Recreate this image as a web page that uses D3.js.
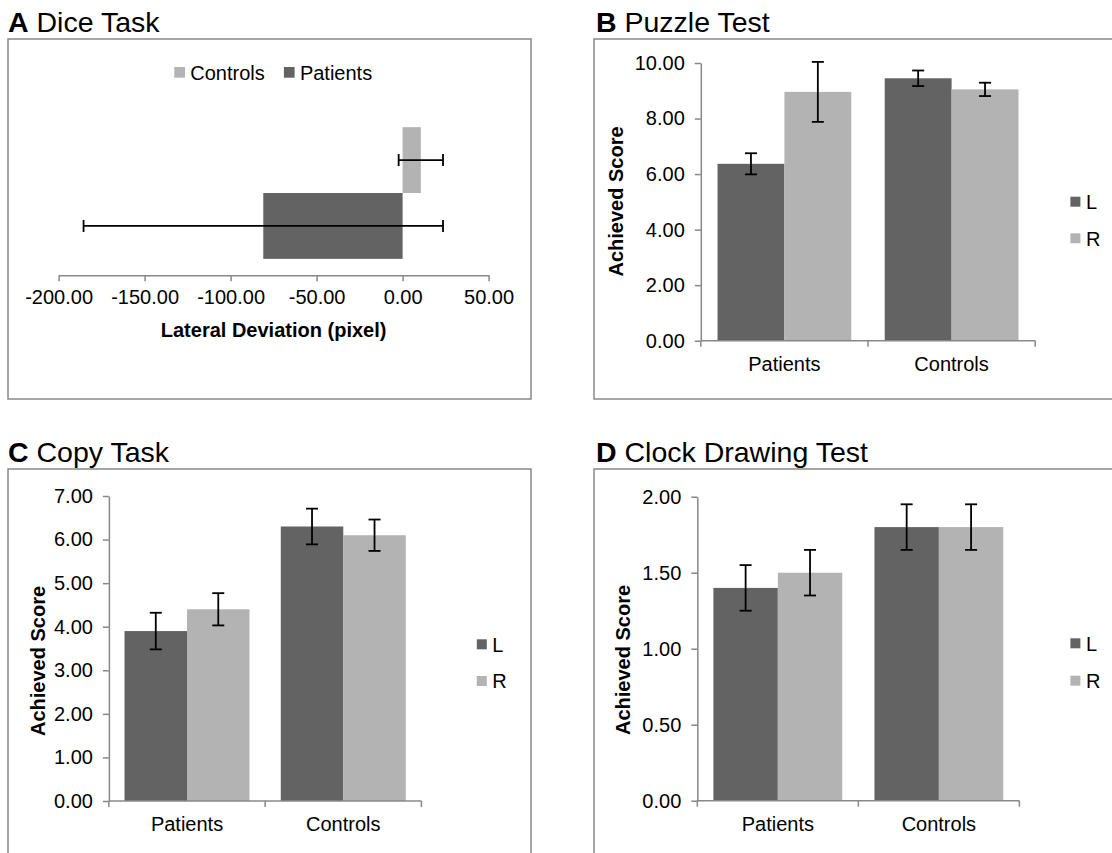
<!DOCTYPE html>
<html>
<head>
<meta charset="utf-8">
<script src="https://cdn.jsdelivr.net/npm/d3@7"></script>
<style>
  html, body { margin: 0; padding: 0; background: #fff; }
  svg { display: block; }
  text { font-family: "Liberation Sans", Arial, Helvetica, sans-serif; fill: #000; }
</style>
</head>
<body>
<svg id="chart" width="1112" height="853"></svg>
<script>
// ---------------- DATA ----------------
// Panel A: Dice Task (horizontal bars)
const diceCategories = ["Controls", "Patients"];
const diceValues = [10.6, -81];
const diceErrors = [12.9, 104.5];
const diceTicks = [-200, -150, -100, -50, 0, 50];

// Bar panels share groups and series
const groupCategories = ["Patients", "Controls"];
const sideSeries = ["L", "R"];

// Panel B: Puzzle Test
const puzzleL = [6.37, 9.45];
const puzzleR = [8.96, 9.05];
const puzzleErrL = [0.38, 0.28];
const puzzleErrR = [1.08, 0.24];
const puzzleTicks = [0, 2, 4, 6, 8, 10];

// Panel C: Copy Task
const copyL = [3.9, 6.3];
const copyR = [4.4, 6.1];
const copyErrL = [0.42, 0.41];
const copyErrR = [0.37, 0.36];
const copyTicks = [0, 1, 2, 3, 4, 5, 6, 7];

// Panel D: Clock Drawing Test
const clockL = [1.4, 1.8];
const clockR = [1.5, 1.8];
const clockErrL = [0.15, 0.15];
const clockErrR = [0.15, 0.15];
const clockTicks = [0, 0.5, 1, 1.5, 2];

// ---------------- STYLE ----------------
const DARK = "#636363";
const LIGHT = "#b3b3b3";
const GRID = "#888888";
const FONT = 20;
const TITLE_FONT = 28.5;
const fmt2 = d3.format(".2f");
const fmt = v => fmt2(v).replace("\u2212", "-");

const svg = d3.select("#chart");

function frame(x, y, w, h) {
  svg.append("rect").attr("x", x).attr("y", y).attr("width", w).attr("height", h)
    .attr("fill", "none").attr("stroke", GRID).attr("stroke-width", 1.5);
}

function panelTitle(x, y, letter, label) {
  const t = svg.append("text").attr("x", x).attr("y", y).attr("font-size", TITLE_FONT);
  t.append("tspan").attr("font-weight", "bold").text(letter);
  t.append("tspan").text(" " + label);
}

function styleAxis(g) {
  g.selectAll("path.domain").attr("stroke", GRID).attr("stroke-width", 1.5);
  g.selectAll(".tick line").attr("stroke", GRID).attr("stroke-width", 1.5);
  g.selectAll("text").attr("font-size", FONT).attr("fill", "#000")
    .attr("font-family", '"Liberation Sans", Arial, sans-serif');
}

// ---------------- PANEL A ----------------
frame(8, 39, 523, 360);
panelTitle(8, 31.5, "A", "Dice Task");

const xA = d3.scaleLinear().domain([-200, 50]).range([58.6, 488.6]);
const yA = d3.scaleBand().domain(diceCategories).range([111, 275]).paddingInner(0).paddingOuter(0.245);
const axisYA = 275.3;

const gA = svg.append("g").attr("transform", `translate(0,${axisYA})`)
  .call(d3.axisBottom(xA).tickValues(diceTicks).tickFormat(fmt).tickSizeInner(6).tickSizeOuter(0).tickPadding(9));
styleAxis(gA);

const diceColors = [LIGHT, DARK];
svg.append("g").selectAll("rect").data(diceCategories).join("rect")
  .attr("x", (d, i) => Math.min(xA(0), xA(diceValues[i])))
  .attr("y", d => yA(d))
  .attr("width", (d, i) => Math.abs(xA(diceValues[i]) - xA(0)))
  .attr("height", yA.bandwidth())
  .attr("fill", (d, i) => diceColors[i]);

const errA = svg.append("g").attr("stroke", "#000").attr("stroke-width", 1.8);
diceCategories.forEach((c, i) => {
  const cy = yA(c) + yA.bandwidth() / 2;
  const x0 = xA(diceValues[i] - diceErrors[i]);
  const x1 = xA(diceValues[i] + diceErrors[i]);
  errA.append("line").attr("x1", x0).attr("x2", x1).attr("y1", cy).attr("y2", cy);
  errA.append("line").attr("x1", x0).attr("x2", x0).attr("y1", cy - 6).attr("y2", cy + 6);
  errA.append("line").attr("x1", x1).attr("x2", x1).attr("y1", cy - 6).attr("y2", cy + 6);
});

svg.append("text").attr("x", (xA.range()[0] + xA.range()[1]) / 2).attr("y", 336.7)
  .attr("text-anchor", "middle").attr("font-weight", "bold").attr("font-size", FONT)
  .text("Lateral Deviation (pixel)");

// Legend A
const legA = [{ name: diceCategories[0], color: LIGHT, x: 174.3 }, { name: diceCategories[1], color: DARK, x: 283.9 }];
legA.forEach(l => {
  svg.append("rect").attr("x", l.x).attr("y", 67).attr("width", 10.7).attr("height", 10.7).attr("fill", l.color);
  svg.append("text").attr("x", l.x + 16).attr("y", 72.3).attr("dy", "0.36em").attr("font-size", FONT).text(l.name);
});

// ---------------- BAR PANELS ----------------
function barPanel(cfg) {
  frame(cfg.box[0], cfg.box[1], cfg.box[2], cfg.box[3]);
  panelTitle(cfg.titleX, cfg.titleY, cfg.letter, cfg.title);

  const x = d3.scaleBand().domain(groupCategories).range([cfg.x0, cfg.x1]).paddingInner(0).paddingOuter(0);
  const xs = d3.scaleBand().domain(sideSeries).range([0.1 * x.bandwidth(), 0.9 * x.bandwidth()]).padding(0);
  const y = d3.scaleLinear().domain([0, d3.max(cfg.ticks)]).range([cfg.yBottom, cfg.yTop]);

  // y axis
  const gy = svg.append("g").attr("transform", `translate(${cfg.x0},0)`)
    .call(d3.axisLeft(y).tickValues(cfg.ticks).tickFormat(fmt).tickSizeInner(6).tickSizeOuter(0).tickPadding(10));
  styleAxis(gy);

  // bars
  const series = [
    { key: "L", vals: cfg.L, errs: cfg.errL, color: DARK },
    { key: "R", vals: cfg.R, errs: cfg.errR, color: LIGHT }
  ];
  series.forEach(s => {
    svg.append("g").selectAll("rect").data(groupCategories).join("rect")
      .attr("x", d => x(d) + xs(s.key))
      .attr("y", (d, i) => y(s.vals[i]))
      .attr("width", xs.bandwidth())
      .attr("height", (d, i) => y(0) - y(s.vals[i]))
      .attr("fill", s.color);
  });

  // x axis (category boundaries as ticks)
  const gx = svg.append("g").attr("stroke", GRID).attr("stroke-width", 1.5);
  gx.append("line").attr("x1", cfg.x0).attr("x2", cfg.x1).attr("y1", y(0)).attr("y2", y(0));
  const bounds = groupCategories.map(c => x(c)).concat([cfg.x1]);
  bounds.forEach(b => {
    gx.append("line").attr("x1", b).attr("x2", b).attr("y1", y(0)).attr("y2", y(0) + 6);
  });
  groupCategories.forEach(c => {
    svg.append("text").attr("x", x(c) + x.bandwidth() / 2).attr("y", y(0) + 30)
      .attr("text-anchor", "middle").attr("font-size", FONT).text(c);
  });

  // error bars
  const ge = svg.append("g").attr("stroke", "#000").attr("stroke-width", 1.8);
  series.forEach(s => {
    groupCategories.forEach((c, i) => {
      const cx = x(c) + xs(s.key) + xs.bandwidth() / 2;
      const y0 = y(s.vals[i] - s.errs[i]);
      const y1 = y(s.vals[i] + s.errs[i]);
      ge.append("line").attr("x1", cx).attr("x2", cx).attr("y1", y0).attr("y2", y1);
      ge.append("line").attr("x1", cx - 6).attr("x2", cx + 6).attr("y1", y0).attr("y2", y0);
      ge.append("line").attr("x1", cx - 6).attr("x2", cx + 6).attr("y1", y1).attr("y2", y1);
    });
  });

  // y title
  svg.append("text").attr("transform", `translate(${cfg.yTitle[0]},${cfg.yTitle[1]}) rotate(-90)`)
    .attr("text-anchor", "middle").attr("dy", "0.35em").attr("font-weight", "bold").attr("font-size", FONT)
    .text("Achieved Score");

  // legend
  series.forEach((s, k) => {
    const ly = cfg.legY[k];
    svg.append("rect").attr("x", cfg.legX).attr("y", ly).attr("width", 10).attr("height", 10).attr("fill", s.color);
    svg.append("text").attr("x", cfg.legX + 15.5).attr("y", ly + 5).attr("dy", "0.36em")
      .attr("font-size", FONT).text(s.key);
  });
}

barPanel({
  letter: "B", title: "Puzzle Test", titleX: 596, titleY: 31.5,
  box: [594, 39, 560, 360],
  x0: 700.8, x1: 1035.2, yTop: 63, yBottom: 340.7,
  ticks: puzzleTicks, L: puzzleL, R: puzzleR, errL: puzzleErrL, errR: puzzleErrR,
  yTitle: [616.3, 201.5], legX: 1070.4, legY: [196.7, 233.3]
});

barPanel({
  letter: "C", title: "Copy Task", titleX: 8, titleY: 461.5,
  box: [8, 469, 523, 420],
  x0: 108.9, x1: 421.4, yTop: 496, yBottom: 801,
  ticks: copyTicks, L: copyL, R: copyR, errL: copyErrL, errR: copyErrR,
  yTitle: [37.5, 661], legX: 476.8, legY: [639.3, 676]
});

barPanel({
  letter: "D", title: "Clock Drawing Test", titleX: 596, titleY: 461.5,
  box: [594, 469, 560, 420],
  x0: 697.3, x1: 1019.4, yTop: 496.7, yBottom: 800.7,
  ticks: clockTicks, L: clockL, R: clockR, errL: clockErrL, errR: clockErrR,
  yTitle: [623.4, 660], legX: 1070.4, legY: [638.3, 675.7]
});
</script>
</body>
</html>
